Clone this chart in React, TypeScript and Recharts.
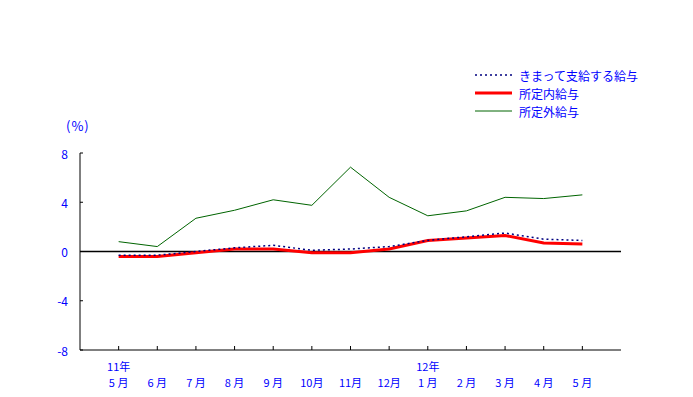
import { LineChart, Line, XAxis, YAxis, ReferenceLine } from 'recharts'

const months = ['5 月', '6 月', '7 月', '8 月', '9 月', '10月', '11月', '12月', '1 月', '2 月', '3 月', '4 月', '5 月']
const years = ['11年', '', '', '', '', '', '', '', '12年', '', '', '', '']
const kimatte = [-0.3, -0.3, 0.0, 0.3, 0.5, 0.1, 0.2, 0.4, 0.9, 1.2, 1.5, 1.0, 0.9]
const shoteinai = [-0.4, -0.4, -0.1, 0.2, 0.2, -0.1, -0.1, 0.2, 0.9, 1.1, 1.3, 0.7, 0.6]
const shoteigai = [0.8, 0.4, 2.7, 3.35, 4.2, 3.75, 6.85, 4.4, 2.9, 3.3, 4.4, 4.3, 4.6]
const yTicks = [-8, -4, 0, 4, 8]

const BLUE = '#0000ff'
const FONT = '"Noto Sans CJK JP", sans-serif'

const data = months.map((m, i) => ({
  i: i + 1,
  kimatte: kimatte[i],
  shoteinai: shoteinai[i],
  shoteigai: shoteigai[i],
}))

function XTick({ x, y, payload }: any) {
  const idx = payload.value - 1
  return (
    <g>
      <line x1={x} y1={y} x2={x} y2={y - 4} stroke="#000" />
      {years[idx] && (
        <text x={x} y={y + 16} textAnchor="middle" dominantBaseline="central" fill={BLUE} fontSize={11} fontFamily={FONT}>
          {years[idx]}
        </text>
      )}
      <text x={x} y={y + 32} textAnchor="middle" dominantBaseline="central" fill={BLUE} fontSize={11} fontFamily={FONT}>
        {months[idx]}
      </text>
    </g>
  )
}

function YTick({ x, y, payload }: any) {
  return (
    <g>
      <line x1={x} y1={y} x2={x + 3} y2={y} stroke="#000" />
      <text x={x - 12} y={y} textAnchor="end" dominantBaseline="central" fill={BLUE} fontSize={12} fontFamily={FONT}>
        {payload.value}
      </text>
    </g>
  )
}

const legendRows = [
  { label: 'きまって支給する給与', color: '#000080', width: 1.5, dash: '2 3' },
  { label: '所定内給与', color: '#ff0000', width: 3, dash: undefined },
  { label: '所定外給与', color: '#006400', width: 1, dash: undefined },
]

export default function App() {
  return (
    <div style={{ position: 'absolute', left: 0, top: 0, width: 693, height: 397, background: '#fff' }}>
      <LineChart width={693} height={397} data={data} margin={{ top: 153, right: 72, bottom: 7, left: 0 }}>
        <XAxis
          dataKey="i"
          type="number"
          domain={[0, 14]}
          ticks={[1, 2, 3, 4, 5, 6, 7, 8, 9, 10, 11, 12, 13]}
          height={40}
          tickSize={0}
          tickMargin={0}
          tickLine={false}
          axisLine={{ stroke: '#000' }}
          tick={<XTick />}
          interval={0}
        />
        <YAxis
          domain={[-8, 8]}
          ticks={yTicks}
          width={80}
          tickSize={0}
          tickMargin={0}
          tickLine={false}
          axisLine={{ stroke: '#000' }}
          tick={<YTick />}
          interval={0}
        />
        <ReferenceLine y={0} stroke="#000" strokeWidth={1.5} />
        <Line dataKey="shoteigai" stroke="#006400" strokeWidth={1} dot={false} activeDot={false} isAnimationActive={false} />
        <Line dataKey="shoteinai" stroke="#ff0000" strokeWidth={3} dot={false} activeDot={false} isAnimationActive={false} />
        <Line dataKey="kimatte" stroke="#000080" strokeWidth={1.5} strokeDasharray="2 3" dot={false} activeDot={false} isAnimationActive={false} />
      </LineChart>
      <div style={{ position: 'absolute', left: 66, top: 116, color: BLUE, fontSize: 13, fontFamily: FONT, letterSpacing: 1 }}>(%)</div>
      <svg style={{ position: 'absolute', left: 470, top: 65 }} width={200} height={60}>
        {legendRows.map((r, k) => (
          <g key={r.label}>
            <line x1={5} x2={42} y1={10 + k * 18} y2={10 + k * 18} stroke={r.color} strokeWidth={r.width} strokeDasharray={r.dash} />
            <text x={49} y={10 + k * 18} dominantBaseline="central" fill={BLUE} fontSize={12} fontFamily={FONT}>
              {r.label}
            </text>
          </g>
        ))}
      </svg>
    </div>
  )
}
